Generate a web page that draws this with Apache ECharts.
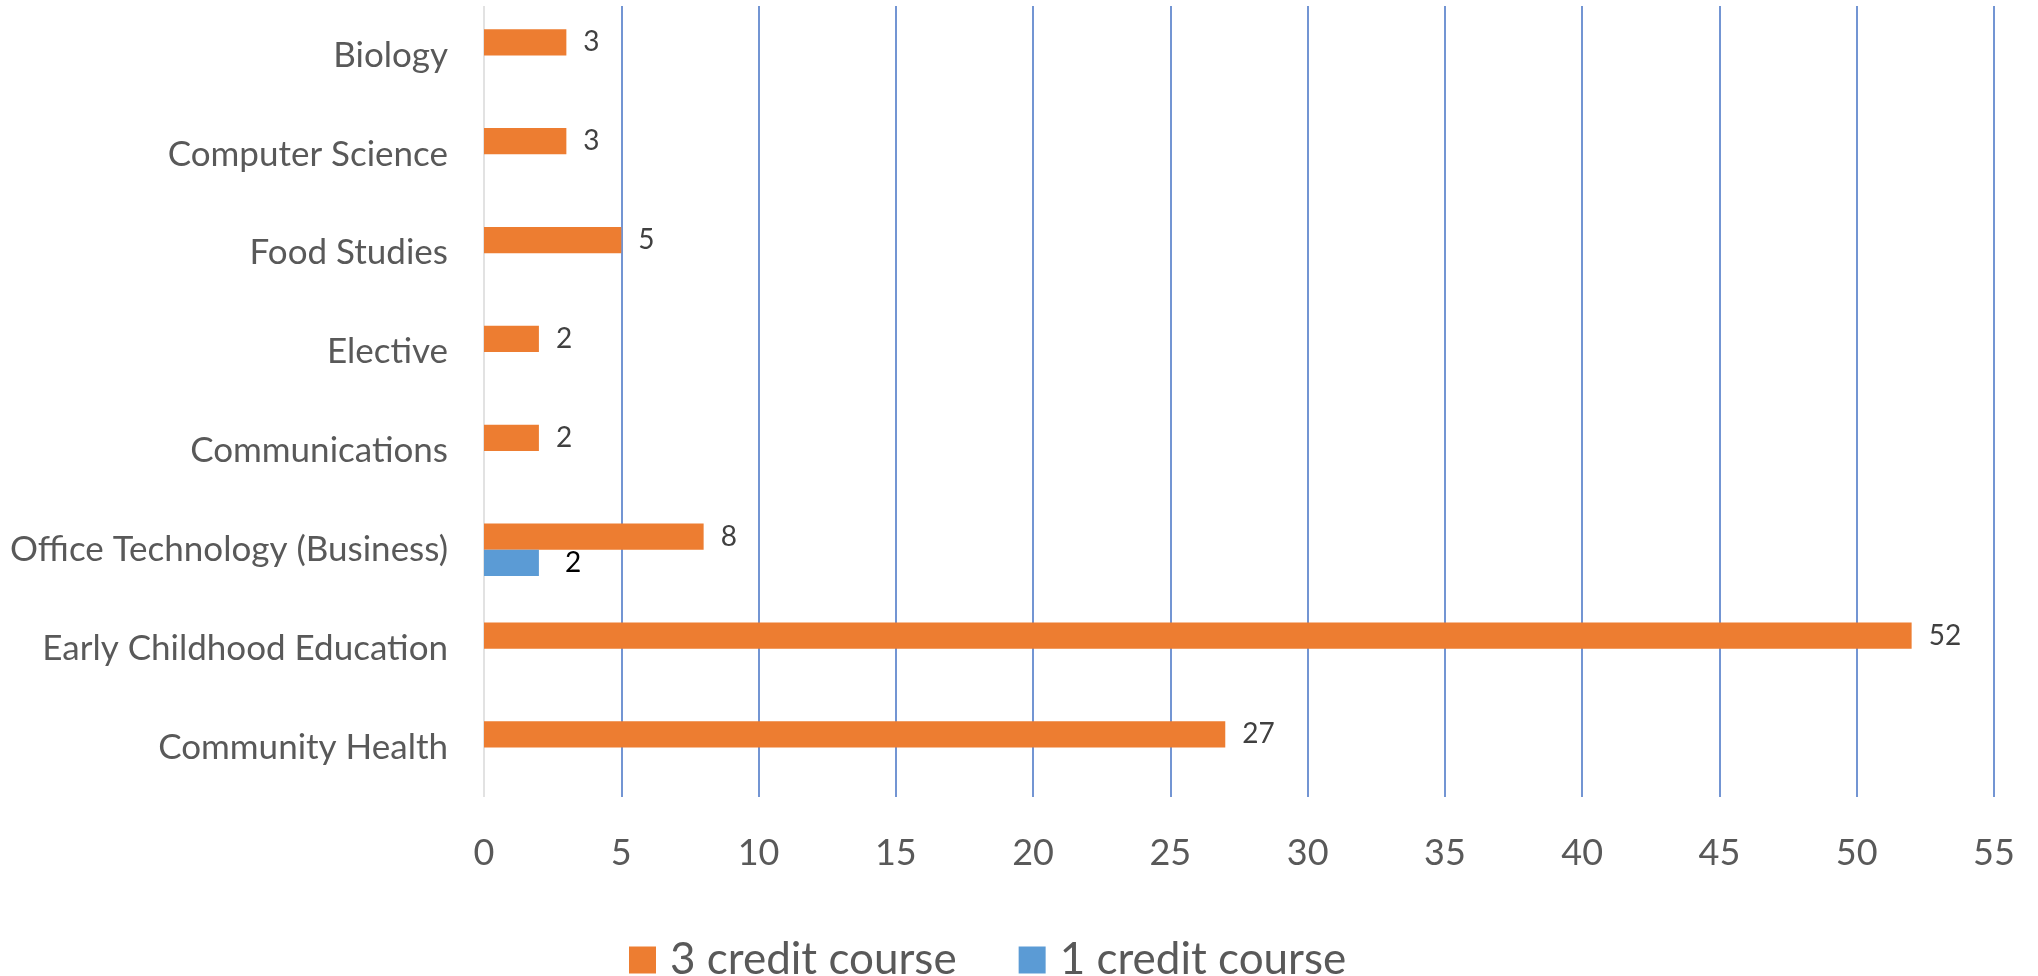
<!DOCTYPE html>
<html>
<head>
<meta charset="utf-8">
<script src="https://cdn.jsdelivr.net/npm/echarts@6/dist/echarts.min.js"></script>
<style>
  html, body { margin: 0; padding: 0; background: #fff; }
  #main { width: 2038px; height: 976px; }
</style>
</head>
<body>
<div id="main"></div>
<script>
// categories listed bottom to top (category axis starts at the bottom)
var categories = ['Community Health', 'Early Childhood Education', 'Office Technology (Business)',
  'Communications', 'Elective', 'Food Studies', 'Computer Science', 'Biology']
var threeCredit = [27, 52, 8, 2, 2, 5, 3, 3]
var oneCredit = [null, null, 2, null, null, null, null, null]
var xTicks = [0, 5, 10, 15, 20, 25, 30, 35, 40, 45, 50, 55]

var font = 'Lato, "Liberation Sans", sans-serif'

// first grid line (x = 0) is the grey axis line, the rest are blue
var gridColors = xTicks.map(function (v, i) { return i === 0 ? '#d9d9d9' : '#4472C4' })

var chart = echarts.init(document.getElementById('main'))
chart.setOption({
  animation: false,
  textStyle: { fontFamily: font },
  grid: { left: 484, right: 44, top: 6, bottom: 179, containLabel: false },
  legend: {
    left: 624,
    top: 933,
    icon: 'rect',
    itemWidth: 27,
    itemHeight: 27,
    itemGap: 62,
    textStyle: { fontSize: 44, lineHeight: 44, color: '#595959', fontFamily: font, padding: [0, 0, 0, 9] },
    data: ['3 credit course', '1 credit course']
  },
  xAxis: {
    type: 'value',
    min: xTicks[0],
    max: xTicks[xTicks.length - 1],
    interval: 5,
    axisLine: { show: false },
    axisTick: { show: false },
    axisLabel: { fontSize: 36, color: '#595959', margin: 38 },
    splitLine: { show: true, lineStyle: { color: gridColors, width: 1.5 } }
  },
  yAxis: {
    type: 'category',
    data: categories,
    axisLine: { show: false },
    axisTick: { show: false },
    axisLabel: { fontSize: 35, color: '#595959', margin: 36 }
  },
  series: [
    {
      name: '3 credit course',
      type: 'bar',
      data: threeCredit,
      barGap: '0%',
      barCategoryGap: '47%',
      itemStyle: { color: '#ED7D31' },
      label: { show: true, position: 'right', distance: 17, fontSize: 28, color: '#404040' }
    },
    {
      name: '1 credit course',
      type: 'bar',
      data: oneCredit,
      itemStyle: { color: '#5B9BD5' },
      label: { show: true, position: 'right', distance: 26, fontSize: 28, color: '#000' }
    }
  ]
})
</script>
</body>
</html>
